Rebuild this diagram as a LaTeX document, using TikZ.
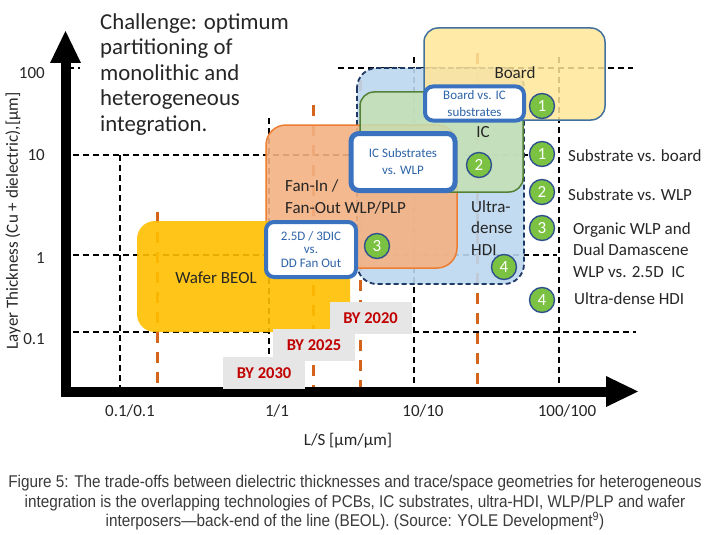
\documentclass[tikz,border=0pt]{standalone}
\usepackage{fontspec}
\setmainfont{Carlito}
\newfontfamily\capfont[FakeStretch=0.9]{Liberation Sans}
\usepackage{xcolor}
\definecolor{gold}{HTML}{FFC000}
\definecolor{fanfill}{HTML}{F4B183}
\definecolor{fanline}{HTML}{ED7D31}
\definecolor{hdifill}{HTML}{BDD7EE}
\definecolor{hdiline}{HTML}{1F3864}
\definecolor{icfill}{HTML}{C5E0B4}
\definecolor{icline}{HTML}{548235}
\definecolor{brdfill}{HTML}{FFE699}
\definecolor{brdline}{HTML}{41719C}
\definecolor{yrline}{HTML}{D4641C}
\definecolor{numgr}{HTML}{7CC242}
\definecolor{numbr}{HTML}{2F528F}
\definecolor{cobr}{HTML}{3A72C0}
\definecolor{cotx}{HTML}{2E64A8}
\definecolor{byred}{HTML}{C00000}
\definecolor{bygrey}{HTML}{E7E6E6}
\definecolor{txt}{HTML}{262626}
\definecolor{capgray}{HTML}{3A3A3A}

\tikzset{
  grid/.style={black,line width=1.1pt,dash pattern=on 6pt off 4pt},
  yrs/.style={yrline,line width=3pt,dash pattern=on 11pt off 9pt},
  callout/.style={draw=cobr,line width=4pt,fill=white,rounded corners=8pt,align=center,text=cotx,font=\fontsize{13}{17}\selectfont,inner sep=1pt},
  num/.style={circle,draw=numbr,line width=1.4pt,fill=numgr,text=white,minimum size=25pt,inner sep=0pt,font=\fontsize{17}{17}\selectfont},
  bybox/.style={fill=bygrey,text=byred,font=\fontsize{16.5}{16.5}\selectfont\bfseries,minimum width=82pt,minimum height=32pt},
  lbl/.style={text=txt,font=\fontsize{17}{21.5}\selectfont,align=left,inner sep=1pt},
}

\begin{document}
\begin{tikzpicture}[x=1pt,y=-1pt]
	\useasboundingbox (0,0) rectangle (710,535);
	% dashed grid
	\draw[grid] (68,68)--(80,68) (338,68)--(633,68);
	\draw[grid] (73,155)--(528,155);
	\draw[grid] (73,255)--(557,255);
	\draw[grid] (73,332)--(636,332);
	\draw[grid] (120,155)--(120,390);
	\draw[grid] (269,118)--(269,390);
	\draw[grid] (414,57)--(414,390);
	\draw[grid] (559,57)--(559,390);
	% year marks
	\draw[yrs] (157,212)--(157,390);
	\draw[yrs] (313,105)--(313,390);
	\draw[yrs] (360,80)--(360,390);
	\draw[yrs] (477,53)--(477,390);

	% technology areas
	\draw[fill=hdifill,fill opacity=.9,draw=hdiline,line width=1.8pt,dash pattern=on 5pt off 3pt,rounded corners=20pt] (357,68) rectangle (524,284);
	\draw[fill=fanfill,fill opacity=.9,draw=fanline,line width=1.5pt,rounded corners=20pt] (266,125) rectangle (457,268);
	\draw[fill=icfill,fill opacity=.85,draw=icline,line width=1.5pt,rounded corners=14pt] (360,92) rectangle (523,192);
	\draw[fill=brdfill,fill opacity=.85,draw=brdline,line width=1.5pt,rounded corners=14pt] (424,28) rectangle (605,120);
	\fill[gold,opacity=.9,rounded corners=18pt] (137,221) rectangle (350,332);

	\node[lbl] (brdl) at (515,73) {Board};
	\node[lbl] (icl) at (483,132) {IC};
	\node[lbl,anchor=west] (hdil) at (470,228) {Ultra-\\dense\\HDI};
	\node[lbl,anchor=west] (fanl) at (284,197) {Fan-In /\\Fan-Out WLP/PLP};
	\node[lbl] (beoll) at (216,278) {Wafer BEOL};

	% axes
	\draw[line width=10pt,line join=miter] (65.5,62)--(65.5,391.5)--(608,391.5);
	\fill (65.5,31)--(81,63)--(50,63)--cycle;
	\fill (638,391.5)--(606,376)--(606,407)--cycle;

	% callouts
	\node[callout,minimum width=99pt,minimum height=34pt] (cbrd) at (474.5,103.5) {Board vs. IC\\substrates};
	\node[callout,line width=5pt,minimum width=104pt,minimum height=57pt] (csub) at (403,162) {IC Substrates\\vs. WLP};
	\node[callout,font=\fontsize{13}{13.5}\selectfont,minimum width=90pt,minimum height=55pt] (cdd) at (311,249.5) {2.5D / 3DIC\\vs.\\DD Fan Out};

	\node[num] (a1) at (542,106) {1};
	\node[num] (a2) at (479,165) {2};
	\node[num] (a3) at (377,246) {3};
	\node[num] (a4) at (504,267) {4};

	% legend
	\node[num] (k1) at (542,154) {1};
	\node[num] (k2) at (542,192) {2};
	\node[num] (k3) at (542,228) {3};
	\node[num] (k4) at (542,300) {4};
	\node[lbl,anchor=west] (t1) at (567,156) {Substrate vs. board};
	\node[lbl,anchor=west] (t2) at (567,195) {Substrate vs. WLP};
	\node[lbl,anchor=west] (t3) at (572,250) {Organic WLP and\\Dual Damascene\\WLP vs. 2.5D~~IC};
	\node[lbl,anchor=west] (t4) at (573,299) {Ultra-dense HDI};

	% roadmap
	\node[bybox] (by20) at (370.5,318) {BY 2020};
	\node[bybox] (by25) at (314,345) {BY 2025};
	\node[bybox] (by30) at (264,373) {BY 2030};

	\node[anchor=north west,align=left,inner sep=0pt,text=txt,font=\fontsize{22.8}{25.5}\selectfont] (chal) at (100,13) {Challenge: optimum\\partitioning of\\monolithic and\\heterogeneous\\integration.};

	% axis labels
	\node[lbl,anchor=east] (y100) at (46,73) {100};
	\node[lbl,anchor=east] (y10) at (46,155) {10};
	\node[lbl,anchor=east] (y1) at (46,258) {1};
	\node[lbl,anchor=east] (y01) at (46,339) {0.1};
	\node[lbl,rotate=90] (ylab) at (13,221) {Layer Thickness (Cu + dielectric),[µm]};
	\node[lbl] (x01) at (130,411) {0.1/0.1};
	\node[lbl] (x1) at (277,411) {1/1};
	\node[lbl] (x10) at (423,411) {10/10};
	\node[lbl] (x100) at (567,411) {100/100};
	\node[lbl] (xlab) at (348,441) {L/S [µm/µm]};

	\node[align=center,text=capgray,font=\capfont\fontsize{17}{19.5}\selectfont] (cap) at (355,503) {Figure 5: The trade-offs between dielectric thicknesses and trace/space geometries for heterogeneous\\integration is the overlapping technologies of PCBs, IC substrates, ultra-HDI, WLP/PLP and wafer\\interposers—back-end of the line (BEOL). (Source: YOLE Development\textsuperscript{9})};
\end{tikzpicture}
\end{document}
